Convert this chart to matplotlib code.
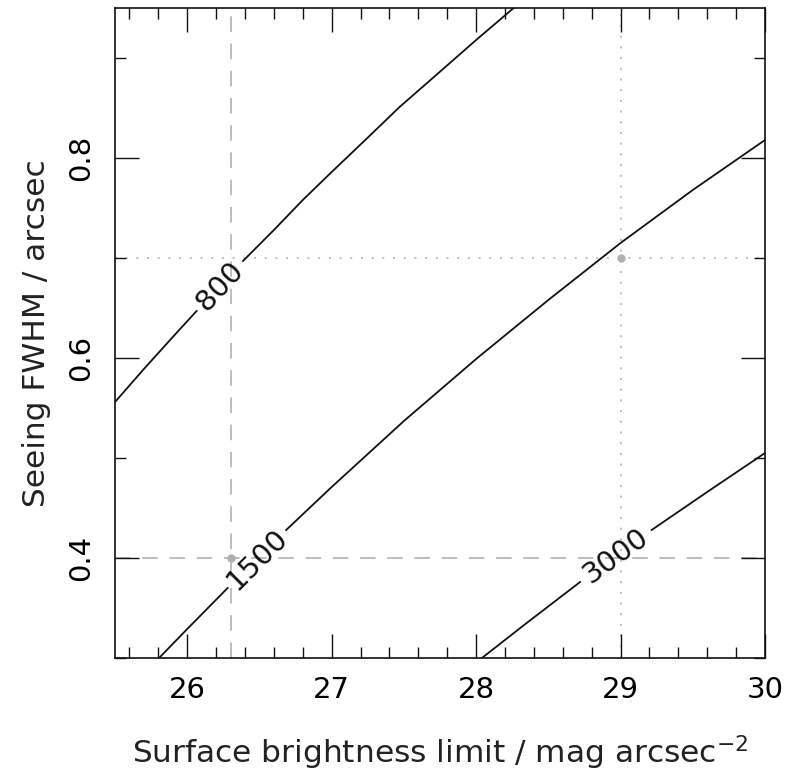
import numpy as np
import matplotlib
matplotlib.use("Agg")
import matplotlib.pyplot as plt

# contour levels and traced points (surface brightness limit, seeing FWHM)
levels = [800, 1500, 3000]

sb_800 = [25.50, 25.70, 25.90, 26.065, 26.386, 26.60, 26.80, 27.00, 27.24, 27.47, 27.70, 28.00, 28.26]
fwhm_800 = [0.556, 0.589, 0.621, 0.647, 0.697, 0.728, 0.758, 0.786, 0.819, 0.851, 0.880, 0.918, 0.950]

sb_1500 = [25.805, 26.00, 26.28, 26.685, 27.00, 27.50, 28.00, 28.50, 29.00, 29.50, 30.00]
fwhm_1500 = [0.300, 0.329, 0.370, 0.428, 0.471, 0.537, 0.599, 0.658, 0.715, 0.768, 0.818]

sb_3000 = [28.04, 28.35, 28.72, 29.215, 29.62, 30.00]
fwhm_3000 = [0.300, 0.335, 0.376, 0.428, 0.468, 0.505]

# index of the point where the line breaks for its label
label_gap = [3, 2, 2]

# reference observing setups
ref_sb = [26.3, 29.0]
ref_fwhm = [0.4, 0.7]

curves = [(sb_800, fwhm_800), (sb_1500, fwhm_1500), (sb_3000, fwhm_3000)]

fig = plt.figure(figsize=(7.94, 7.74), dpi=100)
ax = fig.add_axes([115 / 794, 116 / 774, 650 / 794, 650 / 774])
ax.set_xlim(25.5, 30)
ax.set_ylim(0.3, 0.95)

grey = "#bdbdbd"
ax.axvline(ref_sb[0], color=grey, lw=1.4, dashes=(8, 6), zorder=1)
ax.axhline(ref_fwhm[0], color=grey, lw=1.4, dashes=(8, 6), zorder=1)
ax.axvline(ref_sb[1], color=grey, lw=1.4, dashes=(1, 4.5), zorder=1)
ax.axhline(ref_fwhm[1], color=grey, lw=1.4, dashes=(1, 4.5), zorder=1)
ax.plot(ref_sb, ref_fwhm, "o", color="#b0b0b0", ms=6, mec="none", zorder=2)

for level, (xs, ys), g in zip(levels, curves, label_gap):
    ax.plot(xs[:g + 1], ys[:g + 1], color="#111111", lw=1.3, zorder=3)
    ax.plot(xs[g + 1:], ys[g + 1:], color="#111111", lw=1.3, zorder=3)
    p0, p1 = ax.transData.transform([(xs[g], ys[g]), (xs[g + 1], ys[g + 1])])
    angle = np.degrees(np.arctan2(p1[1] - p0[1], p1[0] - p0[0]))
    ax.text((xs[g] + xs[g + 1]) / 2, (ys[g] + ys[g + 1]) / 2, str(level),
            rotation=angle, rotation_mode="anchor", ha="center", va="center",
            fontsize=21, color="#111111", zorder=4)

ax.set_xticks([26, 27, 28, 29, 30])
ax.set_xticks(np.arange(25.6, 30.0, 0.2), minor=True)
ax.set_yticks([0.4, 0.6, 0.8])
ax.set_yticklabels(["0.4", "0.6", "0.8"])
ax.set_yticks([0.3, 0.5, 0.7, 0.9], minor=True)
ax.tick_params(which="both", direction="in", top=True, right=True, width=1.0, color="#111111")
ax.tick_params(which="major", length=17)
ax.tick_params(which="minor", length=8)
ax.tick_params(axis="x", labelsize=21, pad=13)
ax.tick_params(axis="y", labelsize=21, pad=14, labelrotation=90)
for lbl in ax.get_yticklabels():
    lbl.set_va("center")
for s in ax.spines.values():
    s.set_linewidth(1.2)
    s.set_color("#111111")

ax.set_xlabel(r"Surface brightness limit / mag arcsec$^{-2}$", fontsize=22.5, labelpad=21, color="#222222")
ax.set_ylabel("Seeing FWHM / arcsec", fontsize=22.5, labelpad=12, color="#222222")

fig.savefig("out.png", dpi=100)
